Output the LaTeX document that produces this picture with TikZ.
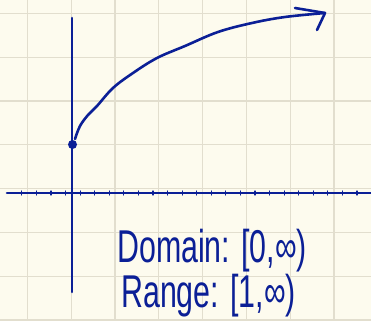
\documentclass[tikz,border=0pt]{standalone}
\usepackage{fontspec}
\newfontfamily\handfont[FakeStretch=0.66]{Liberation Sans}
\usetikzlibrary{positioning}
\definecolor{ink}{HTML}{0B1F96}
\definecolor{paper}{HTML}{FDFBEE}
\definecolor{gridline}{HTML}{E2DECE}
\tikzset{x=1pt, y=-1pt, % one unit is one pixel of the picture, y runs down
pen/.style={ink, line width=2.6pt, line cap=round, line join=round}, % the hand drawn strokes
paperline/.style={gridline, line width=1.2pt}, % the squares of the paper
hand/.style={ink, font=\handfont\fontsize{46}{50}\selectfont, inner sep=0pt, anchor=base west},
}

\begin{document}
\begin{tikzpicture}
  \fill[paper] (0,0) rectangle (371,321);
  \useasboundingbox (0,0) rectangle (371,321);
  \foreach \k in {0,...,7} {
    \draw[paperline] (27.3+43.8*\k,0) -- (27.3+43.8*\k,321);
    \draw[paperline] (0,13.3+43.8*\k) -- (371,13.3+43.8*\k);
  }

  \coordinate (xleft) at (7,193);
  \coordinate (xright) at (371,193);
  \coordinate (ytop) at (72,18);
  \coordinate (ybottom) at (72,292);
  \draw[pen] (xleft) -- (xright);
  \draw[pen] (ytop) -- (ybottom);
  \foreach \k in {1,...,24}
    \draw[pen, line width=1.2pt] (7.3+14.57*\k,191) -- (7.3+14.57*\k,195);

  \node[circle, fill=ink, inner sep=0pt, minimum size=9pt] (point) at (72.5,144.5) {};
  \coordinate (start) at (75,139);
  \coordinate (tip) at (325,13);
  \draw[pen] plot[smooth, tension=0.6] coordinates {(start) (80,126) (88,115) (97,106) (113,88) (133,73) (157,58) (185,46) (218,32) (252,23) (285,17) (tip)};
  \draw[pen] (295,8) -- (tip) -- (317,30);

  \node[hand] (domain) at (117,262) {Domain: [0,∞)};
  \node[hand] (range) at (121,307) {Range: [1,∞)};
\end{tikzpicture}
\end{document}
